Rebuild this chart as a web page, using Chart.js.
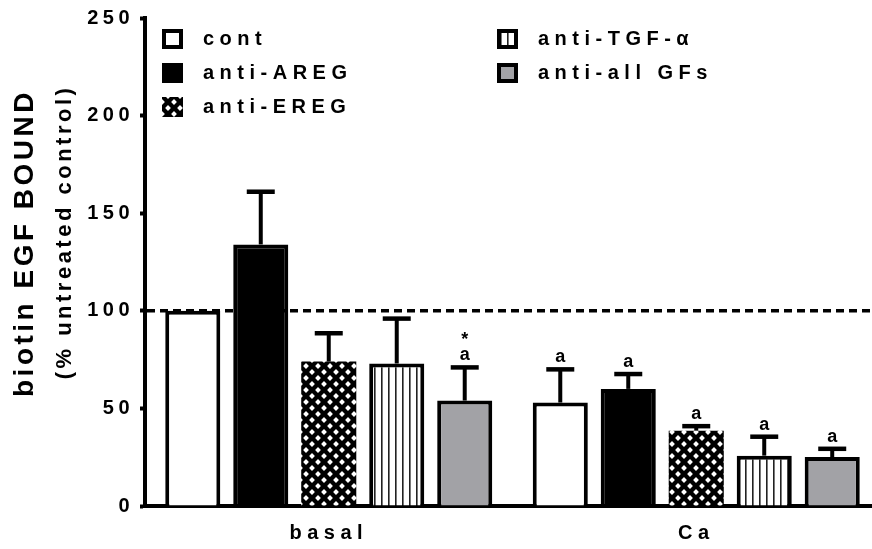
<!DOCTYPE html>
<html>
<head>
<meta charset="utf-8">
<script src="https://cdn.jsdelivr.net/npm/chart.js@4/dist/chart.umd.min.js"></script>
<style>
  html, body { margin: 0; padding: 0; background: #fff; overflow: hidden; }
  canvas { display: block; }
</style>
</head>
<body>
<canvas id="c" width="880" height="549"></canvas>
<script>
// Categories and treatment groups
const categories = ['basal', 'Ca'];
const seriesNames = ['cont', 'anti-AREG', 'anti-EREG', 'anti-TGF-α', 'anti-all GFs'];

// Means (% untreated control) and SEM for each group
const contValues = [100, 53];
const contSem    = [0, 17];
const aregValues = [134, 60];
const aregSem    = [27, 7.6];
const eregValues = [74, 38.6];
const eregSem    = [14.5, 2.3];
const tgfValues  = [73, 25.8];
const tgfSem     = [23, 9.7];
const allValues  = [54, 25.1];
const allSem     = [17, 4.2];

// Significance marks above each bar (listed bottom to top)
const contMarks = [[], ['a']];
const aregMarks = [[], ['a']];
const eregMarks = [[], ['a']];
const tgfMarks  = [[], ['a']];
const allMarks  = [['a', '*'], ['a']];

const yTicks = [0, 50, 100, 150, 200, 250];
const referenceLevel = 100;

const FONT = '"Liberation Sans", Arial, Helvetica, sans-serif';
Chart.defaults.font.family = FONT;
Chart.defaults.font.weight = 'bold';
Chart.defaults.color = '#000';

// Fill patterns
function diamondPattern() {
  const t = document.createElement('canvas');
  t.width = 12; t.height = 12;
  const g = t.getContext('2d');
  g.fillStyle = '#000';
  g.fillRect(0, 0, 12, 12);
  g.fillStyle = '#fff';
  const d = (cx, cy, r) => {
    g.beginPath();
    g.moveTo(cx, cy - r); g.lineTo(cx + r, cy); g.lineTo(cx, cy + r); g.lineTo(cx - r, cy);
    g.closePath(); g.fill();
  };
  [[0, 0], [12, 0], [0, 12], [12, 12], [6, 6]].forEach(p => d(p[0], p[1], 2.9));
  return g.createPattern(t, 'repeat');
}
function stripePattern() {
  const t = document.createElement('canvas');
  t.width = 7; t.height = 4;
  const g = t.getContext('2d');
  g.fillStyle = '#fff';
  g.fillRect(0, 0, 7, 4);
  g.fillStyle = '#222';
  g.fillRect(3, 0, 1.6, 4);
  return g.createPattern(t, 'repeat');
}

const seriesStyles = [
  { backgroundColor: '#ffffff', borderColor: '#000', borderWidth: 4 },
  { backgroundColor: '#000000', borderColor: '#000', borderWidth: 4 },
  { backgroundColor: diamondPattern(), borderColor: '#000', borderWidth: 0 },
  { backgroundColor: stripePattern(), borderColor: '#000', borderWidth: 4 },
  { backgroundColor: '#a2a2a6', borderColor: '#000', borderWidth: 4 }
];
const seriesValues = [contValues, aregValues, eregValues, tgfValues, allValues];
const seriesSem    = [contSem, aregSem, eregSem, tgfSem, allSem];
const seriesMarks  = [contMarks, aregMarks, eregMarks, tgfMarks, allMarks];

const datasets = seriesNames.map((name, i) => Object.assign({
  label: name,
  data: seriesValues[i],
  sem: seriesSem[i],
  marks: seriesMarks[i],
  categoryPercentage: 0.925,
  barPercentage: 0.81,
  borderSkipped: 'start'
}, seriesStyles[i]));

// Tick labels are drawn with wide letter spacing
const labelSpacing = { x: '5.5px', y: '4.5px' };
const spacedLabels = {
  id: 'spacedLabels',
  afterLayout(chart) {
    ['x', 'y'].forEach(id => {
      const s = chart.scales[id];
      if (!s || s._spaced) return;
      const orig = s.drawLabels.bind(s);
      s.drawLabels = function (area) {
        const c = this.ctx;
        const prev = c.letterSpacing;
        c.letterSpacing = labelSpacing[id];
        orig(area);
        c.letterSpacing = prev;
      };
      s._spaced = true;
    });
  }
};

// Dashed line at the untreated-control level
const referenceLine = {
  id: 'referenceLine',
  afterDatasetsDraw(chart) {
    const { ctx, chartArea, scales } = chart;
    const y = scales.y.getPixelForValue(referenceLevel);
    ctx.save();
    ctx.strokeStyle = '#000';
    ctx.lineWidth = 3.5;
    ctx.setLineDash([8, 5]);
    ctx.beginPath();
    ctx.moveTo(chartArea.left + 2, y);
    ctx.lineTo(chartArea.right, y);
    ctx.stroke();
    ctx.restore();
  }
};

// Upward SEM whiskers and significance letters
const errorBars = {
  id: 'errorBars',
  afterDatasetsDraw(chart) {
    const { ctx, scales } = chart;
    ctx.save();
    ctx.strokeStyle = '#000';
    ctx.fillStyle = '#000';
    chart.data.datasets.forEach((ds, di) => {
      const meta = chart.getDatasetMeta(di);
      meta.data.forEach((bar, i) => {
        const v = ds.data[i];
        const e = ds.sem[i] || 0;
        const top = scales.y.getPixelForValue(v + e);
        if (e > 0) {
          ctx.lineWidth = 4;
          ctx.beginPath();
          ctx.moveTo(bar.x, bar.y);
          ctx.lineTo(bar.x, top);
          ctx.stroke();
          ctx.lineWidth = 4.5;
          ctx.beginPath();
          ctx.moveTo(bar.x - 14, top);
          ctx.lineTo(bar.x + 14, top);
          ctx.stroke();
        }
        const marks = ds.marks[i] || [];
        ctx.font = 'bold 18px ' + FONT;
        ctx.textAlign = 'center';
        ctx.textBaseline = 'alphabetic';
        marks.forEach((m, k) => {
          ctx.fillText(m, bar.x, top - 7 - k * 15);
        });
      });
    });
    ctx.restore();
  }
};

// Two-column legend box and y-axis titles
const legendAndTitles = {
  id: 'legendAndTitles',
  afterDraw(chart) {
    const { ctx, chartArea } = chart;
    ctx.save();
    ctx.letterSpacing = '5.5px';
    ctx.font = 'bold 20px ' + FONT;
    ctx.textAlign = 'left';
    ctx.textBaseline = 'alphabetic';
    const cols = [chartArea.left + 17, chartArea.left + 352];
    const rows = [chartArea.top + 21, chartArea.top + 55, chartArea.top + 89];
    chart.data.datasets.forEach((ds, i) => {
      const col = i < 3 ? 0 : 1;
      const row = i < 3 ? i : i - 3;
      const x = cols[col], cy = rows[row];
      const w = 21, h = 20, y = cy - h / 2;
      ctx.fillStyle = ds.backgroundColor;
      ctx.fillRect(x, y, w, h);
      if (ds.borderWidth > 0) {
        const b = ds.borderWidth;
        ctx.strokeStyle = ds.borderColor;
        ctx.lineWidth = b;
        ctx.strokeRect(x + b / 2, y + b / 2, w - b, h - b);
      }
      ctx.fillStyle = '#000';
      ctx.fillText(ds.label, x + 41, cy + 6);
    });
    ctx.restore();

    ctx.save();
    ctx.fillStyle = '#000';
    ctx.textAlign = 'center';
    ctx.textBaseline = 'alphabetic';
    ctx.letterSpacing = '3.5px';
    ctx.translate(33, 243);
    ctx.rotate(-Math.PI / 2);
    ctx.font = 'bold 28px ' + FONT;
    ctx.fillText('biotin EGF BOUND', 0, 0);
    ctx.restore();

    ctx.save();
    ctx.fillStyle = '#000';
    ctx.textAlign = 'center';
    ctx.textBaseline = 'alphabetic';
    ctx.letterSpacing = '3.5px';
    ctx.translate(71, 232);
    ctx.rotate(-Math.PI / 2);
    ctx.font = 'bold 22px ' + FONT;
    ctx.fillText('(% untreated control)', 0, 0);
    ctx.restore();
  }
};

new Chart(document.getElementById('c'), {
  type: 'bar',
  data: { labels: categories, datasets },
  plugins: [spacedLabels, referenceLine, errorBars, legendAndTitles],
  options: {
    responsive: false,
    animation: false,
    devicePixelRatio: 1,
    layout: { padding: { top: 15, right: 0, left: 0, bottom: 0 } },
    plugins: { legend: { display: false }, tooltip: { enabled: false } },
    scales: {
      x: {
        grid: { display: true, drawOnChartArea: false, drawTicks: false, lineWidth: 0 },
        border: { display: true, width: 4, color: '#000' },
        ticks: { font: { size: 20, weight: 'bold' }, color: '#000', padding: 15 },
        afterFit(s) { s.height = 43; }
      },
      y: {
        min: 0,
        max: 250,
        afterBuildTicks(s) { s.ticks = yTicks.map(v => ({ value: v })); },
        grid: { drawOnChartArea: false, drawTicks: true, tickLength: 5, tickWidth: 4, tickColor: '#000' },
        border: { display: true, width: 4, color: '#000' },
        ticks: { font: { size: 20, weight: 'bold' }, color: '#000', padding: 6 },
        afterFit(s) { s.width = 145; }
      }
    }
  }
});
</script>
</body>
</html>
